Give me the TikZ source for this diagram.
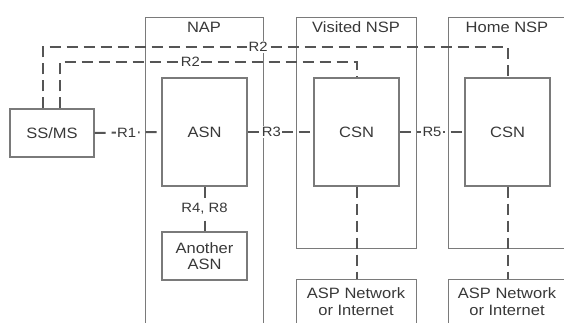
\documentclass[tikz,border=0pt]{standalone}
\usepackage{fontspec}
\setmainfont{Liberation Sans}[FakeStretch=1.1]
\definecolor{boxline}{HTML}{7A7A7A}
\definecolor{dashline}{HTML}{555555}
\definecolor{txt}{HTML}{383838}
\tikzset{
  box/.style={draw=boxline, line width=1.4pt, rectangle, inner sep=0pt, fill=none},
  cont/.style={draw=boxline, line width=1.4pt, rectangle, inner sep=0pt, anchor=north west},
  conn/.style={draw=dashline, line width=2pt, dash pattern=on 11pt off 6pt},
  lbl/.style={fill=white, inner sep=1.5pt, text=txt, font=\fontsize{13.5}{15}\selectfont},
  ttl/.style={text=txt, font=\fontsize{15}{17}\selectfont, inner sep=0pt},
}
\begin{document}
\begin{tikzpicture}[x=1pt,y=-1pt]
\useasboundingbox (0,0) rectangle (564,322);
\clip (0,0) rectangle (564,322);
% containers
\node[cont, minimum width=118pt, minimum height=330pt] (nap) at (145,17) {};
\node[cont, minimum width=120pt, minimum height=231pt] (vnsp) at (296,17) {};
\node[cont, minimum width=130pt, minimum height=231pt] (hnsp) at (448,17) {};
\node[cont, minimum width=120pt, minimum height=60pt] (asp1) at (296,279) {};
\node[cont, minimum width=130pt, minimum height=60pt] (asp2) at (448,279) {};
% titles
\node[ttl] (naplbl) at (204,27) {NAP};
\node[ttl] (vlbl) at (356,27) {Visited NSP};
\node[ttl] (hlbl) at (507,27) {Home NSP};
% inner boxes
\node[box, minimum width=84pt, minimum height=48pt, ttl] (ss) at (52,133) {SS/MS};
\node[box, minimum width=85pt, minimum height=108pt, ttl] (asn) at (204.5,132) {ASN};
\node[box, minimum width=85pt, minimum height=48pt, ttl, align=center] (ano) at (204.5,256) {Another\\[-1pt]ASN};
\node[box, minimum width=85pt, minimum height=108pt, ttl] (vcsn) at (356.5,132) {CSN};
\node[box, minimum width=85pt, minimum height=108pt, ttl] (hcsn) at (507.5,132) {CSN};
\node[ttl, align=center] (asp1t) at (356,302) {ASP Network\\[0pt]or Internet};
\node[ttl, align=center] (asp2t) at (507,302) {ASP Network\\[0pt]or Internet};
% connectors
\coordinate (c1) at (43,47);
\coordinate (c2) at (507.5,47);
\coordinate (c3) at (60,62);
\coordinate (c4) at (356.5,62);
\draw[conn] (c1 |- ss.north) -- (c1) -- node[lbl, pos=0.463] (r2a) {R2} (c2) -- (hcsn.north);
\draw[conn] (c3 |- ss.north) -- (c3) -- node[lbl, pos=0.44] (r2b) {R2} (c4) -- (vcsn.north);
\draw[conn] (ss.east) -- node[lbl, pos=0.48] (r1) {R1} (asn.west);
\draw[conn] (asn.east) -- node[lbl, pos=0.36] (r3) {R3} (vcsn.west);
\draw[conn] (vcsn.east) -- node[lbl, pos=0.5] (r5) {R5} (hcsn.west);
\draw[conn] (asn.south) -- node[lbl, pos=0.5] (r48) {R4, R8} (ano.north);
\draw[conn] (vcsn.south) -- (vcsn.south |- asp1.north);
\draw[conn] (hcsn.south) -- (hcsn.south |- asp2.north);
\end{tikzpicture}
\end{document}
